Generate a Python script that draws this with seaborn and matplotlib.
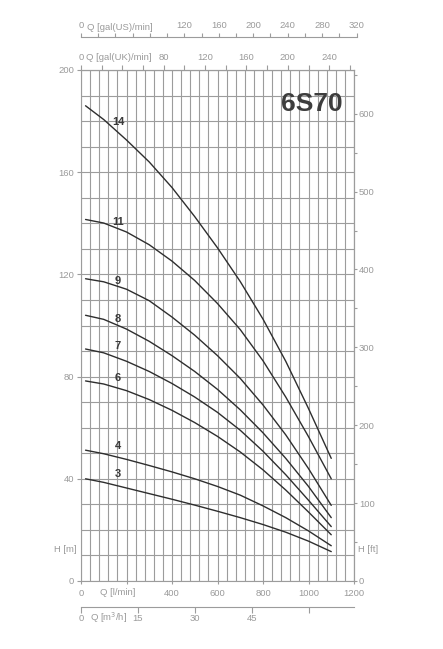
import numpy as np
import pandas as pd
import matplotlib
matplotlib.use("Agg")
import matplotlib.pyplot as plt
from matplotlib.ticker import FixedLocator, FixedFormatter
import seaborn as sns

# ---------------- data ----------------
flow_lmin = [20, 100, 200, 300, 400, 500, 600, 700, 800, 900, 1000, 1100]
head_14 = [186.0, 180.6, 172.6, 164.0, 154.0, 142.6, 130.4, 117.2, 102.5, 86.0, 67.5, 48.0]
head_11 = [141.5, 140.1, 136.6, 131.6, 125.2, 117.6, 108.6, 98.4, 86.2, 72.0, 56.5, 40.0]
head_9 = [118.3, 117.1, 114.2, 109.7, 103.3, 96.2, 88.2, 79.3, 68.9, 57.2, 44.0, 29.6]
head_8 = [104.0, 102.4, 98.6, 93.8, 88.2, 82.0, 75.0, 67.0, 58.0, 48.0, 37.0, 24.8]
head_7 = [90.8, 89.3, 86.0, 82.0, 77.3, 72.0, 66.0, 59.0, 50.8, 41.6, 31.6, 21.3]
head_6 = [78.3, 77.1, 74.5, 71.0, 66.8, 62.0, 56.6, 50.5, 43.5, 35.6, 27.0, 18.1]
head_4 = [51.2, 49.8, 47.6, 45.2, 42.7, 40.0, 37.0, 33.6, 29.4, 24.8, 19.6, 13.8]
head_3 = [40.0, 38.6, 36.4, 34.2, 32.0, 29.7, 27.3, 24.8, 22.1, 19.1, 15.6, 11.5]
stages = ["14", "11", "9", "8", "7", "6", "4", "3"]
heads = [head_14, head_11, head_9, head_8, head_7, head_6, head_4, head_3]

title = "6S70"
lmin_ticks = [0, 200, 400, 600, 800, 1000, 1200]
lmin_labels = ["0", "", "400", "600", "800", "1000", "1200"]
m_ticks = [0, 40, 80, 120, 160, 200]
ft_ticks = [0, 100, 200, 300, 400, 500, 600]
ft_minor = [50, 150, 250, 350, 450, 550, 650]
uk_ticks = list(range(0, 261, 20))
uk_labeled = [0, 80, 120, 160, 200, 240]
us_ticks = list(range(0, 321, 20))
us_labeled = [0, 120, 160, 200, 240, 280, 320]
m3h_ticks = [0, 15, 30, 45, 60]
m3h_labels = ["0", "15", "30", "45", ""]

df = pd.DataFrame({
    "Q": np.tile(flow_lmin, len(stages)),
    "H": np.concatenate(heads),
    "stage": np.repeat(stages, len(flow_lmin)),
})

# ---------------- style ----------------
sns.set_theme(style="white")
plt.rcParams["font.family"] = ["Liberation Sans", "DejaVu Sans"]
GRAY = "#9a9a9a"
GRID = "#9c9c9c"
DARK = "#2e2e2e"
FS = 6.8

W, Hpx = 443, 649
fig = plt.figure(figsize=(W / 100, Hpx / 100), dpi=100)
fig.patch.set_facecolor("white")

def fx(px):
    return px / W

def fy(py):
    return 1 - py / Hpx

ax_l, ax_r, ax_t, ax_b = 81, 354, 70, 581
ax = fig.add_axes([fx(ax_l), fy(ax_b), (ax_r - ax_l) / W, (ax_b - ax_t) / Hpx])

sns.lineplot(data=df, x="Q", y="H", hue="stage", palette={s: DARK for s in stages},
             legend=False, ax=ax, linewidth=1.0, estimator=None, sort=False)
for ln in ax.get_lines():
    ln.set_solid_joinstyle("round")
ax.set_xlim(0, 1200)
ax.set_ylim(0, 200)
ax.set_xlabel("")
ax.set_ylabel("")

# grid
ax.set_xticks(np.arange(0, 1201, 40), minor=True)
ax.set_yticks(np.arange(0, 201, 10), minor=True)
ax.grid(which="both", color=GRID, linewidth=0.8)
ax.set_axisbelow(True)
ax.tick_params(which="minor", length=0)
for sp in ax.spines.values():
    sp.set_color(GRID)
    sp.set_linewidth(0.8)

ax.set_xticks(lmin_ticks)
ax.set_xticklabels(lmin_labels)
ax.set_yticks(m_ticks)
ax.set_yticklabels([str(v) for v in m_ticks])
ax.tick_params(axis="x", which="major", direction="out", length=2.5, width=0.8,
               color=GRID, labelcolor=GRAY, labelsize=FS, pad=3.2, bottom=True)
ax.tick_params(axis="y", which="major", direction="out", length=3, width=0.8,
               color=GRID, labelcolor=GRAY, labelsize=FS, pad=2, left=True)

# right ft axis
ax2 = ax.twinx()
ax2.set_ylim(0, 200 / 0.3048)
ax2.set_yticks(ft_ticks)
ax2.set_yticklabels([str(v) for v in ft_ticks])
ax2.set_yticks(ft_minor, minor=True)
ax2.tick_params(axis="y", which="major", direction="out", length=2.5, width=0.8,
                color=GRID, labelcolor=GRAY, labelsize=FS, pad=1)
ax2.tick_params(axis="y", which="minor", direction="out", length=2, width=0.8, color=GRID)
ax2.grid(False)
for k, sp in ax2.spines.items():
    sp.set_visible(k == "right")
    sp.set_color(GRID)
    sp.set_linewidth(0.8)

# top UK gallons axis
uk = ax.secondary_xaxis("top", functions=(lambda q: q / 4.54609, lambda g: g * 4.54609))
uk.xaxis.set_major_locator(FixedLocator(uk_ticks))
uk.xaxis.set_major_formatter(FixedFormatter([str(t) if t in uk_labeled else "" for t in uk_ticks]))
uk.tick_params(direction="out", length=3.5, width=0.8, color=GRID, labelcolor=GRAY,
               labelsize=FS, pad=2.2)
uk.spines["top"].set_color(GRID)
uk.spines["top"].set_linewidth(0.8)

# separate US gallons axis above
us_right = ax_l + (320 * 3.78541) * (ax_r - ax_l) / 1200
ax_us = fig.add_axes([fx(ax_l), fy(37), (us_right - ax_l) / W, 1e-5])
ax_us.set_xlim(0, 320)
ax_us.set_ylim(0, 1)
ax_us.patch.set_alpha(0)
ax_us.grid(False)
for k, sp in ax_us.spines.items():
    sp.set_visible(k == "top")
    sp.set_color(GRID)
    sp.set_linewidth(0.8)
ax_us.xaxis.set_ticks_position("top")
ax_us.set_xticks(us_ticks)
ax_us.set_xticklabels([str(t) if t in us_labeled else "" for t in us_ticks])
ax_us.set_yticks([])
ax_us.tick_params(axis="x", direction="out", length=3, width=0.8, color=GRID,
                  labelcolor=GRAY, labelsize=FS, pad=1.8)

# bottom m3/h axis
m3 = ax.secondary_xaxis(-(607 - ax_b) / (ax_b - ax_t),
                        functions=(lambda q: q * 0.06, lambda v: v / 0.06))
m3.xaxis.set_major_locator(FixedLocator(m3h_ticks))
m3.xaxis.set_major_formatter(FixedFormatter(m3h_labels))
m3.tick_params(direction="out", length=4.5, width=0.8, color=GRID, labelcolor=GRAY,
               labelsize=FS, pad=0.5)
m3.spines["bottom"].set_color(GRID)
m3.spines["bottom"].set_linewidth(0.8)

# axis name texts
fig.text(fx(87), fy(27.5), "Q [gal(US)/min]", color=GRAY, fontsize=FS, ha="left", va="center")
fig.text(fx(86), fy(58), "Q [gal(UK)/min]", color=GRAY, fontsize=FS, ha="left", va="center")
fig.text(fx(100.5), fy(592.5), "Q [l/min]", color=GRAY, fontsize=FS, ha="left", va="center")
fig.text(fx(90), fy(618), "Q [m$^3$/h]", color=GRAY, fontsize=FS, ha="left", va="center")
fig.text(fx(76), fy(550), "H [m]", color=GRAY, fontsize=FS, ha="right", va="center")
fig.text(fx(358), fy(550), "H [ft]", color=GRAY, fontsize=FS, ha="left", va="center")

# title
ax.text(1015, 186.5, title, fontsize=19, fontweight="bold", color="#3d3d3d",
        ha="center", va="center")

# curve labels
label_pos = {"14": 179.5, "11": 140.7, "9": 117.6, "8": 102.5,
             "7": 91.8, "6": 79.6, "4": 53.0, "3": 41.8}
for s in stages:
    ax.text(163, label_pos[s], s, fontsize=8, fontweight="bold", color="#3a3a3a",
            ha="center", va="center")

fig.savefig("out.png", dpi=100, facecolor="white")
